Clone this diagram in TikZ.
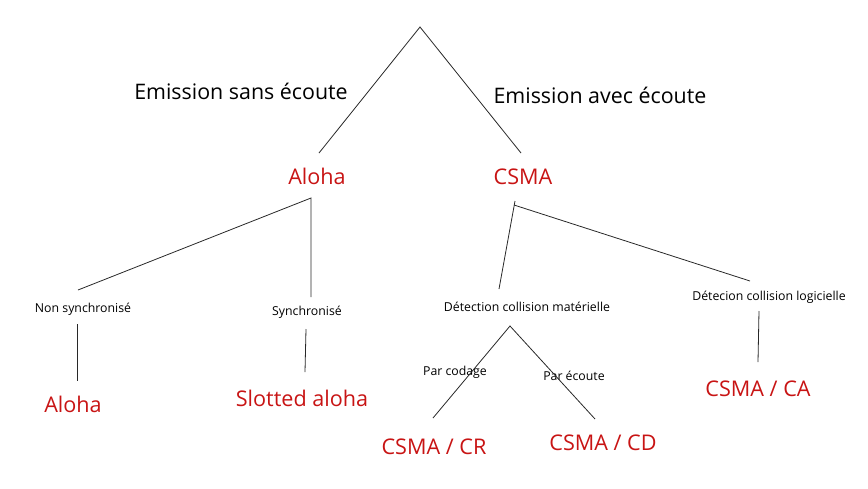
\documentclass[tikz,border=0pt]{standalone}
\usepackage{fontspec}
\setmainfont{Open Sans}
\definecolor{lred}{RGB}{200,20,20}
\definecolor{lgray}{RGB}{40,40,40}
\begin{document}
\begin{tikzpicture}[x=1pt,y=-1pt,
  big/.style={font=\fontsize{21.4}{25}\selectfont, text=black, inner sep=0pt},
  leaf/.style={font=\fontsize{21.6}{25}\selectfont, text=lred, inner sep=0pt},
  small/.style={font=\fontsize{12.3}{15}\selectfont, text=black, inner sep=0pt},
  conn/.style={draw=lgray, line width=0.8pt}]
\useasboundingbox (0,0) rectangle (868,488);
% labels
\node[big] (sans) at (241,91) {Emission sans écoute};
\node[big] (avec) at (600,95) {Emission avec écoute};
\node[leaf] (aloha) at (317,176) {Aloha};
\node[leaf] (csma) at (523,177) {CSMA};
\node[small] (nonsync) at (83,309) {Non synchronisé};
\node[small] (sync) at (307,312) {Synchronisé};
\node[leaf] (aloha2) at (73,404) {Aloha};
\node[leaf] (slotted) at (302,398) {Slotted aloha};
\node[small] (mat) at (527,307) {Détection collision matérielle};
\node[small] (log) at (769,297) {Détecion collision logicielle};
\node[leaf] (csmaca) at (758,389) {CSMA / CA};
\node[small] (codage) at (455,372) {Par codage};
\node[small] (ecoute) at (574,376) {Par écoute};
\node[leaf] (csmacr) at (434,447) {CSMA / CR};
\node[leaf] (csmacd) at (603,443) {CSMA / CD};
% connector end points
\coordinate (top) at (420,27);
\coordinate (aT) at (319,153);
\coordinate (cT) at (521,153);
\coordinate (aB) at (311,198);
\coordinate (nsT) at (78,290);
\coordinate (sT) at (311,297);
\coordinate (nsB) at (77,324);
\coordinate (alT) at (77,381);
\coordinate (sB) at (306,329);
\coordinate (slT) at (305,372);
\coordinate (cB) at (515,201);
\coordinate (cJ) at (514,205);
\coordinate (matT) at (499,289);
\coordinate (logT) at (750,281);
\coordinate (logB) at (759,311);
\coordinate (caT) at (758,362);
\coordinate (matB) at (510,326);
\coordinate (crT) at (433,418);
\coordinate (cdT) at (595,419);
% connectors
\draw[conn] (aT) -- (top) -- (cT);
\draw[conn] (nsT) -- (aB) -- (sT);
\draw[conn] (nsB) -- (alT);
\draw[conn] (sB) -- (slT);
\draw[conn] (matT) -- (cB);
\draw[conn] (cJ) -- (logT);
\draw[conn] (logB) -- (caT);
\draw[conn] (crT) -- (matB) -- (cdT);
\end{tikzpicture}
\end{document}
